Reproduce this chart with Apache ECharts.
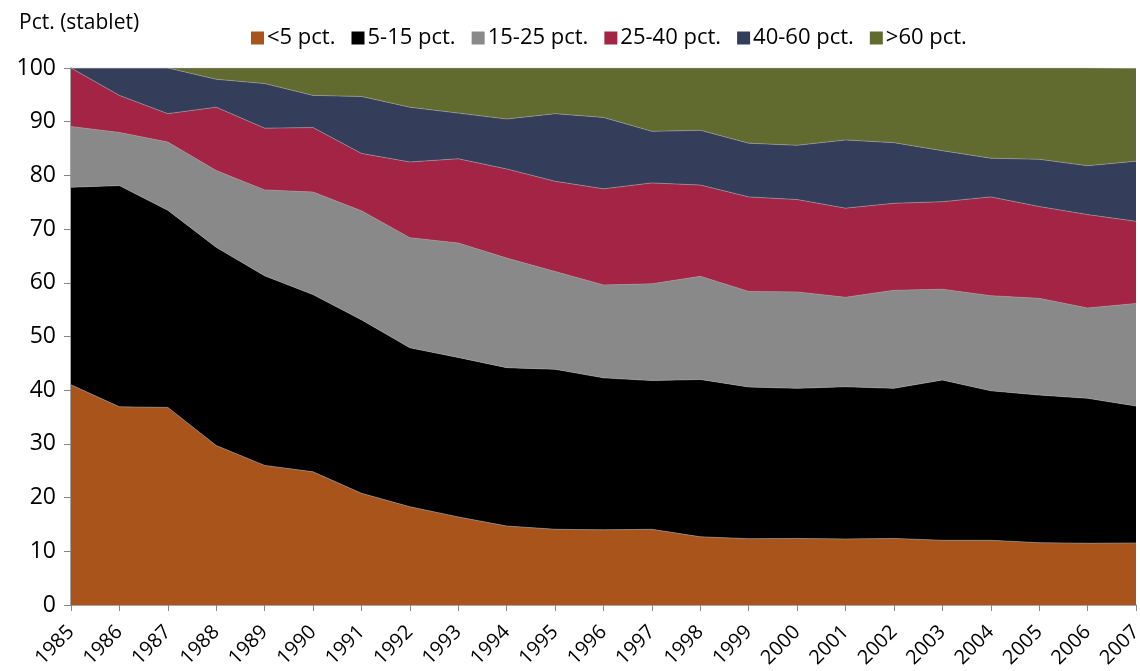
<!DOCTYPE html>
<html>
<head>
<meta charset="utf-8">
<script src="https://cdn.jsdelivr.net/npm/echarts@6/dist/echarts.min.js"></script>
<style>
  html, body { margin: 0; padding: 0; background: #fff; }
  #main { width: 1140px; height: 671px; }
</style>
</head>
<body>
<div id="main"></div>
<script>
const years = ["1985", "1986", "1987", "1988", "1989", "1990", "1991", "1992", "1993", "1994", "1995", "1996",
  "1997", "1998", "1999", "2000", "2001", "2002", "2003", "2004", "2005", "2006", "2007"];

// andele i pct., stablet
const under5 = [41.0, 36.9, 36.8, 29.7, 26.0, 24.8, 20.8, 18.3, 16.4, 14.7, 14.1, 14.0, 14.1, 12.7, 12.35, 12.4, 12.3, 12.4, 12.05, 12.05, 11.6, 11.5, 11.55];
const p5to15 = [36.8, 41.2, 36.7, 36.9, 35.3, 33.0, 32.3, 29.6, 29.7, 29.5, 29.8, 28.3, 27.7, 29.3, 28.25, 27.95, 28.35, 27.95, 29.85, 27.85, 27.5, 27.0, 25.5];
const p15to25 = [11.3, 9.9, 12.7, 14.3, 16.0, 19.1, 20.3, 20.5, 21.3, 20.4, 18.2, 17.3, 18.0, 19.2, 17.8, 17.95, 16.65, 18.25, 16.9, 17.7, 18.0, 16.8, 19.1];
const p25to40 = [10.9, 6.9, 5.3, 11.8, 11.5, 12.0, 10.7, 14.1, 15.7, 16.6, 16.8, 17.9, 18.8, 17.0, 17.6, 17.2, 16.6, 16.2, 16.3, 18.4, 17.1, 17.4, 15.3];
const p40to60 = [0, 5.1, 8.5, 5.2, 8.3, 6.0, 10.6, 10.2, 8.5, 9.3, 12.6, 13.3, 9.6, 10.2, 10.0, 10.1, 12.7, 11.3, 9.5, 7.2, 8.8, 9.1, 11.2];
const over60 = [0, 0, 0, 2.1, 2.9, 5.1, 5.3, 7.3, 8.4, 9.5, 8.5, 9.2, 11.8, 11.6, 14.0, 14.4, 13.4, 13.9, 15.4, 16.8, 17.0, 18.2, 17.3];

const seriesNames = ["<5 pct.", "5-15 pct.", "15-25 pct.", "25-40 pct.", "40-60 pct.", ">60 pct."];
const seriesData = [under5, p5to15, p15to25, p25to40, p40to60, over60];
const colors = ["#A9541A", "#000000", "#898989", "#A32445", "#343E5A", "#626B2F"];

const fontFam = "'Open Sans', sans-serif";

const chart = echarts.init(document.getElementById("main"));

const series = seriesNames.map((name, i) => ({
  name: name,
  type: "line",
  stack: "total",
  data: seriesData[i],
  symbol: "none",
  areaStyle: { color: colors[i], opacity: 1 },
  lineStyle: { color: "#a0a0a0", width: 0.6 },
  itemStyle: { color: colors[i] },
  emphasis: { disabled: true },
}));

const option = {
  animation: false,
  color: colors,
  title: {
    text: "Pct. (stablet)",
    left: 14,
    top: 8,
    textStyle: { fontFamily: fontFam, fontSize: 21, fontWeight: "normal", color: "#000" },
  },
  legend: {
    top: 22,
    left: 246,
    icon: "rect",
    itemWidth: 13,
    itemHeight: 13,
    itemGap: 16,
    textStyle: { fontFamily: fontFam, fontSize: 22, color: "#000", padding: [0, 0, 0, -2] },
    data: seriesNames,
  },
  grid: { left: 71, right: 4, top: 68, bottom: 66, containLabel: false, outerBoundsMode: "none" },
  xAxis: {
    type: "category",
    data: years,
    boundaryGap: false,
    axisLine: { lineStyle: { color: "#868686", width: 1.5 } },
    axisTick: { show: true, length: 6, interval: 0, lineStyle: { color: "#868686" } },
    axisLabel: {
      interval: 0,
      rotate: 45,
      margin: 24,
      fontFamily: fontFam,
      fontSize: 20,
      color: "#000",
    },
    splitLine: { show: false },
  },
  yAxis: {
    type: "value",
    min: 0,
    max: 100,
    interval: 10,
    axisLine: { show: true, lineStyle: { color: "#868686", width: 1.5 } },
    axisTick: { show: true, length: 7, lineStyle: { color: "#868686" } },
    axisLabel: { fontFamily: fontFam, fontSize: 23, color: "#000", margin: 15 },
    splitLine: { show: false },
  },
  series: series,
};

chart.setOption(option);
</script>
</body>
</html>
